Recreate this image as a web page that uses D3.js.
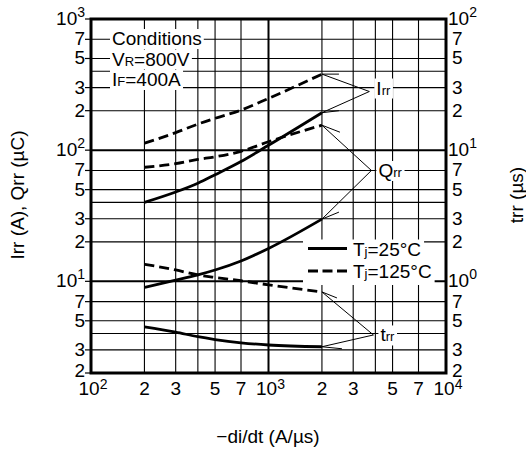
<!DOCTYPE html>
<html>
<head>
<meta charset="utf-8">
<script src="https://cdn.jsdelivr.net/npm/d3@7"></script>
<style>
body{margin:0;background:#fff;}
text{font-family:"Liberation Sans",Arial,Helvetica,sans-serif;fill:#000;}
</style>
</head>
<body>
<svg id="chart" width="526" height="452"></svg>
<script>
// -di/dt values (A/us) where the curves were read
var diVals  = [200, 300, 400, 500, 700, 1000, 2000];
// left axis : Irr (A), Qrr (uC)
var irr125  = [113, 136, 158, 175, 202, 248, 380];
var qrr125  = [74, 79, 85, 89, 98, 116, 155];
var irr25   = [40, 48, 56, 65, 82, 109, 193];
var qrr25   = [9.0, 10.2, 11.2, 12.2, 14.3, 17.8, 29.8];
// right axis : trr (us)
var trr125  = [1.35, 1.22, 1.12, 1.07, 1.01, 0.94, 0.83];
var trr25   = [0.45, 0.41, 0.378, 0.36, 0.34, 0.327, 0.317];

var xTicks    = [100, 200, 300, 500, 700, 1000, 2000, 3000, 5000, 7000, 10000];
var xTickText = ["10|2", "2", "3", "5", "7", "10|3", "2", "3", "5", "7", "10|4"];
var yTicksL    = [2, 3, 5, 7, 10, 20, 30, 50, 70, 100, 200, 300, 500, 700, 1000];
var yTickTextL = ["2", "3", "5", "7", "10|1", "2", "3", "5", "7", "10|2", "2", "3", "5", "7", "10|3"];
var yTicksR    = [0.2, 0.3, 0.5, 0.7, 1, 2, 3, 5, 7, 10, 20, 30, 50, 70, 100];
var yTickTextR = ["2", "3", "5", "7", "10|0", "2", "3", "5", "7", "10|1", "2", "3", "5", "7", "10|2"];
var gridX = [200, 300, 400, 500, 700, 1000, 2000, 3000, 4000, 5000, 7000];
var gridY = [3, 4, 5, 7, 10, 20, 30, 40, 50, 70, 100, 200, 300, 400, 500, 700];

var svg = d3.select("#chart");
var L = 91, R = 446, T = 19, B = 373;
var FS = 19, SM = 13;

var x  = d3.scaleLog().domain([100, 10000]).range([L, R]);
var yL = d3.scaleLog().domain([2, 1000]).range([B, T]);
var yR = d3.scaleLog().domain([0.2, 100]).range([B, T]);

function isDecade(v){ var l = Math.log10(v); return Math.abs(l - Math.round(l)) < 1e-9; }

// grid
svg.selectAll(".gx").data(gridX).enter().append("line")
    .attr("x1", function(d){ return x(d); }).attr("x2", function(d){ return x(d); })
    .attr("y1", T).attr("y2", B)
    .attr("stroke", "#000").attr("stroke-width", function(d){ return isDecade(d) ? 2 : 1.1; });
svg.selectAll(".gy").data(gridY).enter().append("line")
    .attr("x1", L).attr("x2", R)
    .attr("y1", function(d){ return yL(d); }).attr("y2", function(d){ return yL(d); })
    .attr("stroke", "#000").attr("stroke-width", function(d){ return isDecade(d) ? 2 : 1.1; });
// short outward ticks on the left
svg.selectAll(".tl").data(yTicksL).enter().append("line")
    .attr("x1", L - 6).attr("x2", L)
    .attr("y1", function(d){ return yL(d); }).attr("y2", function(d){ return yL(d); })
    .attr("stroke", "#000").attr("stroke-width", 1.2);

// rich text helper : parts = [[text, small?], ...]
function rich(g, parts, px, py, anchor, size){
    var t = g.append("text").attr("x", px).attr("y", py)
        .attr("font-size", size || FS).attr("text-anchor", anchor || "start");
    parts.forEach(function(p){
        t.append("tspan").attr("font-size", p[1] ? SM : (size || FS)).text(p[0]);
    });
    return t;
}
// text on a white patch that hides the grid
function boxed(parts, px, py){
    var g = svg.append("g");
    var r = g.append("rect").attr("fill", "#fff");
    var t = rich(g, parts, px, py);
    var b = t.node().getBBox();
    r.attr("x", b.x - 2).attr("y", b.y + 1).attr("width", b.width + 4).attr("height", b.height - 1);
    return g;
}

// conditions block
boxed([["Conditions"]], 112, 45);
boxed([["V"], ["R", 1], ["=800V"]], 112, 65.5);
boxed([["I"], ["F", 1], ["=400A"]], 112, 86);

// curves
var series = [
    {v: irr125, y: yL, dash: true},
    {v: qrr125, y: yL, dash: true},
    {v: irr25,  y: yL, dash: false},
    {v: qrr25,  y: yL, dash: false},
    {v: trr125, y: yR, dash: true},
    {v: trr25,  y: yR, dash: false}
];
series.forEach(function(s){
    var line = d3.line().curve(d3.curveMonotoneX)
        .x(function(d, i){ return x(diVals[i]); })
        .y(function(d){ return s.y(d); });
    svg.append("path").datum(s.v).attr("d", line)
        .attr("fill", "none").attr("stroke", "#000").attr("stroke-width", 2.8)
        .attr("stroke-dasharray", s.dash ? "10,5" : null);
});

// leader lines to the curve names
var labels = [
    {name: [["I"], ["rr", 1]], at: [3700, 280], dy: 3,   ends: [[irr125, yL, 17, 0], [irr25, yL, 17, -2]]},
    {name: [["Q"], ["rr", 1]], at: [3800, 70],  dy: 6.5, ends: [[qrr125, yL, 18, 7], [qrr25, yL, 17, -7]]},
    {name: [["t"], ["rr", 1]], at: [3900, 0.39], dy: 6.5, right: true, ends: [[trr125, yR, 15, 6], [trr25, yR, 20, 2]]}
];
labels.forEach(function(lb){
    var ax = x(lb.at[0]), ay = (lb.right ? yR : yL)(lb.at[1]);
    boxed(lb.name, ax + 7, ay + lb.dy);
    lb.ends.forEach(function(e){
        var ex = x(diVals[diVals.length - 1]), ey = e[1](e[0][e[0].length - 1]);
        svg.append("line").attr("x1", ex).attr("y1", ey).attr("x2", ax).attr("y2", ay)
            .attr("stroke", "#000").attr("stroke-width", 1);
        svg.append("line").attr("x1", ex).attr("y1", ey).attr("x2", ex + e[2]).attr("y2", ey + e[3])
            .attr("stroke", "#000").attr("stroke-width", 1);
    });
});

// legend
var legend = [
    {parts: [["T"], ["j", 1], ["=25°C"]], dash: false},
    {parts: [["T"], ["j", 1], ["=125°C"]], dash: true}
];
legend.forEach(function(d, i){
    var ly = 248.5 + i * 22.5;
    var g = svg.append("g");
    var r = g.append("rect").attr("fill", "#fff");
    var t = rich(g, d.parts, 353, ly + 7);
    var b = t.node().getBBox();
    r.attr("x", 303).attr("y", ly - 9).attr("width", b.x + b.width + 3 - 303).attr("height", 23);
    g.append("line").attr("x1", 308).attr("x2", 347).attr("y1", ly).attr("y2", ly)
        .attr("stroke", "#000").attr("stroke-width", 2.8)
        .attr("stroke-dasharray", d.dash ? "10,4.5" : null);
    t.raise();
});

// frame
svg.append("rect").attr("x", L).attr("y", T).attr("width", R - L).attr("height", B - T)
    .attr("fill", "none").attr("stroke", "#000").attr("stroke-width", 3);

// tick labels
function powText(sel, s, up){
    var p = s.split("|");
    sel.append("tspan").text(p[0]);
    if (p[1]) sel.append("tspan").attr("font-size", SM + 1).attr("dy", -(up || 8)).text(p[1]);
}
xTicks.forEach(function(v, i){
    var t = svg.append("text").attr("x", x(v) + (xTickText[i].indexOf("|") >= 0 ? 2 : 0)).attr("y", 395)
        .attr("font-size", FS).attr("text-anchor", "middle");
    powText(t, xTickText[i], 6.5);
});
yTicksL.forEach(function(v, i){
    var t = svg.append("text").attr("x", 85).attr("y", yL(v) + (i === 0 ? 4 : 6))
        .attr("font-size", FS).attr("text-anchor", "end");
    powText(t, yTickTextL[i]);
});
yTicksR.forEach(function(v, i){
    var t = svg.append("text").attr("x", yTickTextR[i].indexOf("|") >= 0 ? 448 : 452).attr("y", yR(v) + (i === 0 ? 4 : 6))
        .attr("font-size", FS).attr("text-anchor", "start");
    powText(t, yTickTextR[i]);
});

// axis titles
svg.append("text").attr("transform", "translate(24,195) rotate(-90)")
    .attr("font-size", FS).attr("text-anchor", "middle").text("Irr (A), Qrr (\u00b5C)");
svg.append("text").attr("transform", "translate(523,195) rotate(-90)")
    .attr("font-size", FS).attr("text-anchor", "middle").text("trr (\u00b5s)");
svg.append("text").attr("x", 268).attr("y", 443)
    .attr("font-size", FS).attr("text-anchor", "middle").text("\u2212di/dt (A/\u00b5s)");
</script>
</body>
</html>
